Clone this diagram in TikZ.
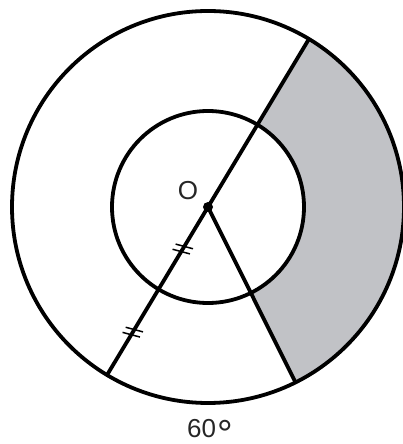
\documentclass[tikz,border=0pt]{standalone}
\usepackage{fontspec}
\setmainfont{Liberation Sans}
\usetikzlibrary{calc}
\definecolor{ringgray}{RGB}{193,194,198}
\tikzset{
  thick line/.style={line width=3.8pt, black},
  tickmark/.style={line width=1.5pt, black},
  lbl/.style={font=\fontsize{26}{30}\selectfont, inner sep=0pt, text=black!85}
}
\begin{document}
\begin{tikzpicture}[x=1pt,y=1pt]
\useasboundingbox (0,0) rectangle (402,444);
\def\Ro{196}
\def\Ri{96}
\def\aU{59}
\def\aR{-63.5}
\coordinate (O) at (208,237);
\coordinate (U) at ($(O)+(\aU:\Ro)$);
\coordinate (L) at ($(O)+(\aU+180:\Ro)$);
\coordinate (R) at ($(O)+(\aR:\Ro)$);
% shaded sector of the ring
\fill[ringgray] (R) arc[start angle=\aR, end angle=\aU, radius=\Ro]
  -- ($(O)+(\aU:\Ri)$) arc[start angle=\aU, end angle=\aR, radius=\Ri] -- cycle;
% circles
\draw[thick line] (O) circle[radius=\Ro];
\draw[thick line] (O) circle[radius=\Ri];
% diameter and radius
\draw[thick line] (U) -- (L);
\draw[thick line] (O) -- (R);
\fill (O) circle[radius=5];
% tick marks
\foreach \r in {49,146}{
  \coordinate (T) at ($(O)+(\aU+180:\r)$);
  \draw[tickmark] ($(T)+(\aU:3)+(165:9)$) -- ($(T)+(\aU:3)+(-15:9)$);
  \draw[tickmark] ($(T)+(\aU+180:3)+(165:9)$) -- ($(T)+(\aU+180:3)+(-15:9)$);
}
% labels
\node[lbl] (olabel) at (188,253) {O};
\node[lbl, anchor=base] (angle) at (210,6) {60\kern1pt\raisebox{-9pt}[18pt][0pt]{\scalebox{1.5}{°}}};
\end{tikzpicture}
\end{document}
